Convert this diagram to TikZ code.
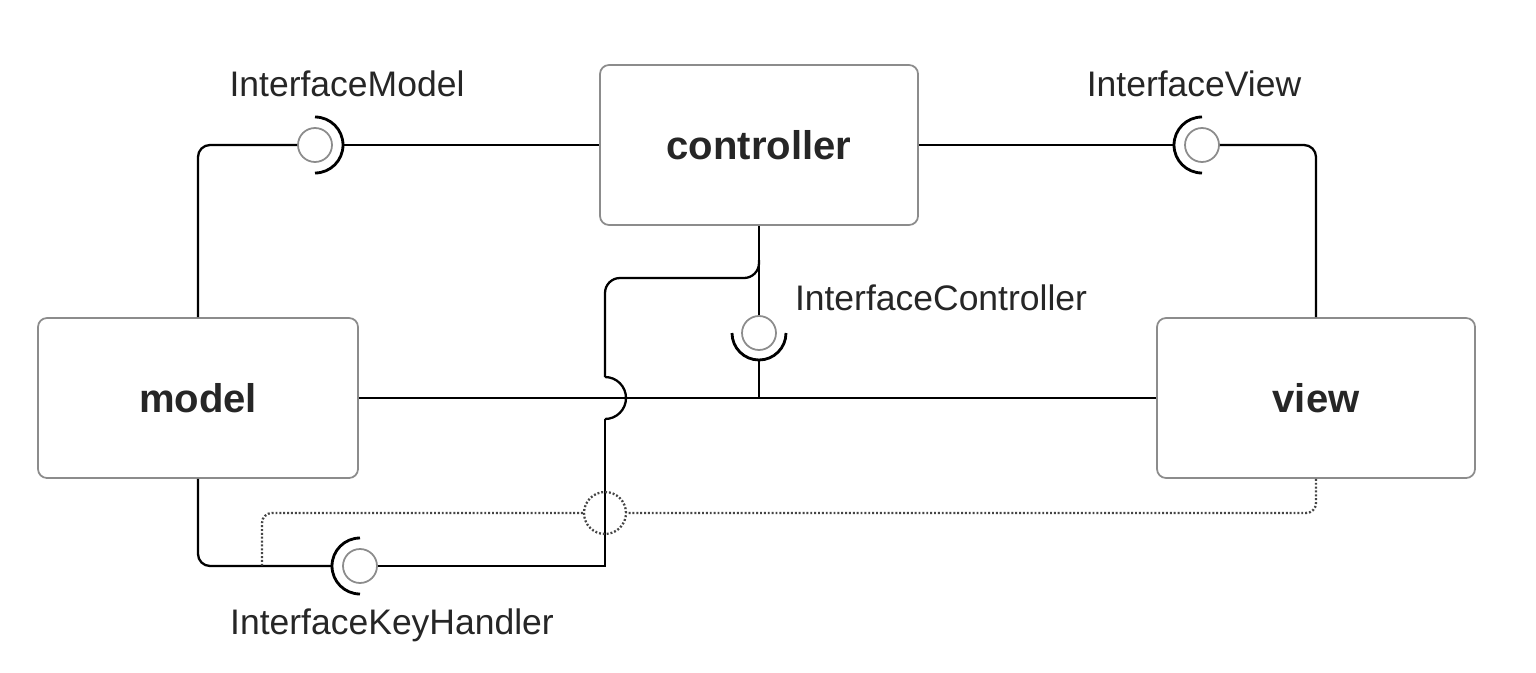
\documentclass[tikz,border=0pt]{standalone}
\usepackage{fontspec}
\setmainfont{Liberation Sans}
\usetikzlibrary{%
  arrows,%
  shapes,%
  positioning,%
  calc%
}
\definecolor{boxgray}{HTML}{8C8C8C}
\definecolor{txtgray}{HTML}{262626}
\definecolor{dotgray}{HTML}{454545}

\tikzset{
  comp/.style={draw=boxgray,rounded corners=0.09cm,line width=0.5pt,
    minimum height=1.6cm,text=txtgray,
    font=\fontsize{11.4}{13}\selectfont\bfseries},
  ball/.style={circle,draw=boxgray,fill=white,minimum size=0.34cm,
    inner sep=0pt,line width=0.5pt},
  socket/.style={line width=0.8pt},
  iface/.style={text=txtgray,font=\fontsize{10.1}{12}\selectfont},
  wire/.style={line width=0.65pt},
  hint/.style={draw=dotgray,line width=0.65pt,dash pattern=on 0.55pt off 0.55pt},
}

\begin{document}
\begin{tikzpicture}
\useasboundingbox (0,0) rectangle (15.36,6.72);

% components
\node[comp,minimum width=3.18cm] (ctrl) at (7.59,5.27) {controller};
\node[comp,minimum width=3.2cm] (model) at (1.98,2.74) {model};
\node[comp,minimum width=3.18cm] (view) at (13.16,2.74) {view};

% interface labels
\node[iface] (lModel) at (3.47,5.88) {InterfaceModel};
\node[iface] (lView) at (11.94,5.88) {InterfaceView};
\node[iface] (lCtrl) at (9.41,3.74) {InterfaceController};
\node[iface] (lKey) at (3.92,0.47) {InterfaceKeyHandler};

% balls
\node[ball] (bModel) at (3.15,5.27) {};
\node[ball] (bView) at (12.02,5.27) {};
\node[ball] (bCtrl) at (7.59,3.39) {};
\node[ball] (bKey) at (3.60,1.06) {};

% socket ends and bends
\coordinate (sModel) at (3.43,5.27);
\coordinate (sView) at (11.74,5.27);
\coordinate (sCtrl) at (7.59,3.12);
\coordinate (sKey) at (3.32,1.06);
\coordinate (jn) at (7.59,2.74);
\coordinate (kTop) at (7.59,4.12);
\coordinate (hopTop) at (6.05,2.95);
\coordinate (hopBot) at (6.05,2.53);
\coordinate (kCorner) at (6.05,1.06);
\coordinate (kJoin) at (2.62,1.06);

% sockets
\draw[socket] ([yshift=0.28cm]bModel.center) arc (90:-90:0.28);
\draw[socket] ([yshift=0.28cm]bView.center) arc (90:270:0.28);
\draw[socket] ([xshift=-0.27cm]bCtrl.center) arc (180:360:0.27);
\draw[socket] ([yshift=0.28cm]bKey.center) arc (90:270:0.28);

% wires
\draw[wire,rounded corners=0.12cm] (model.north) |- (bModel.west);
\draw[wire] (sModel) -- (ctrl.west);
\draw[wire] (ctrl.east) -- (sView);
\draw[wire,rounded corners=0.12cm] (bView.east) -| (view.north);
\draw[wire] (ctrl.south) -- (bCtrl.north);
\draw[wire] (sCtrl) -- (jn);
\draw[wire] (model.east) -- (view.west);
\draw[wire,rounded corners=0.15cm] (kTop) |- (6.05,3.94) -- (hopTop);
\draw[wire] (hopTop) arc (90:-90:0.21);
\draw[wire] (hopBot) -- (kCorner) -- (bKey.east);
\draw[wire,rounded corners=0.12cm] (model.south) |- (sKey);

% dotted dependency
\node[circle,hint,minimum size=0.42cm,inner sep=0pt] (dCirc) at (6.05,1.59) {};
\draw[hint,rounded corners=0.1cm] (view.south) |- (dCirc.east);
\draw[hint,rounded corners=0.1cm] (dCirc.west) -| (kJoin);

\end{tikzpicture}
\end{document}
